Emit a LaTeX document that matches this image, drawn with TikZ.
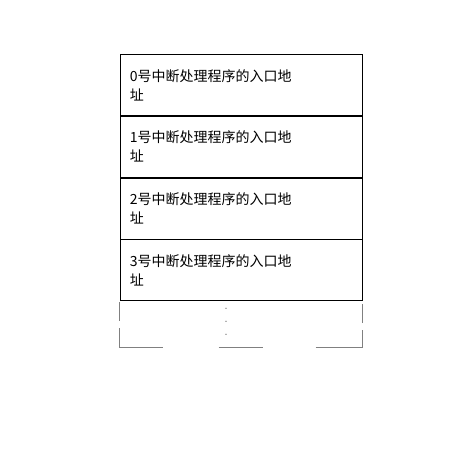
\documentclass[tikz,border=0pt]{standalone}
\usepackage{fontspec}
\newfontfamily\cjk{Noto Sans CJK SC}
\usetikzlibrary{calc,positioning}

\begin{document}
\begin{tikzpicture}[x=1pt,y=-1pt,
    entry/.style={draw,line width=0.8pt,minimum width=242pt,minimum height=61pt,
      text width=222pt,inner xsep=10pt,align=left,
      font=\cjk\fontsize{14}{19}\selectfont},
    tail/.style={gray,line width=1.4pt,
      dash pattern=on 19pt off 7pt on 62pt off 56pt on 44pt off 53pt on 64pt off 7pt on 19pt off 20pt}]
  \useasboundingbox (0,0) rectangle (473,464);
  % vector table
  \node [entry,anchor=north west] at (119.5,54) (vec0) {0号中断处理程序的入口地\\址};
  \node [entry,below=0pt of vec0] (vec1) {1号中断处理程序的入口地\\址};
  \node [entry,below=0pt of vec1] (vec2) {2号中断处理程序的入口地\\址};
  \node [entry,below=0pt of vec2] (vec3) {3号中断处理程序的入口地\\址};
  % open end
  \coordinate (tailbl) at ($(vec3.south west)+(0,46)$);
  \coordinate (tailbr) at ($(vec3.south east)+(0,46)$);
  \draw [tail]
    ($(vec3.south west)+(0,1)$)
    -- (tailbl)
    -- (tailbr)
    -- ($(vec3.south east)+(0,1)$)
  ;
  % dots
  \foreach \dy in {7,20,33}
    \fill [gray!60!black] ($(vec3.south west)+(106.5,\dy)$) circle (0.7pt);
\end{tikzpicture}
\end{document}
